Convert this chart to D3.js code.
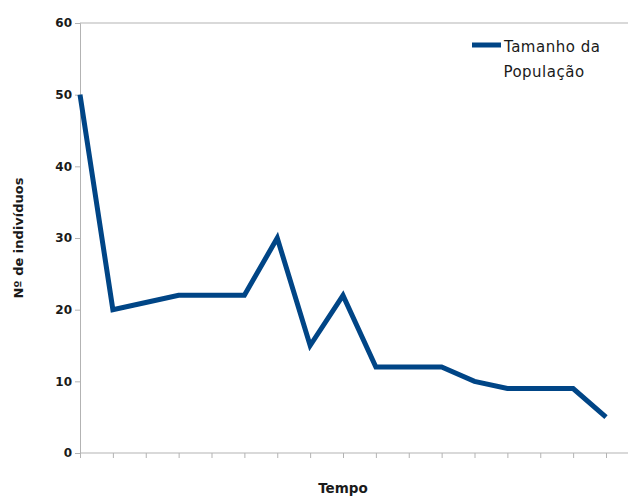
<!DOCTYPE html>
<html>
<head>
<meta charset="utf-8">
<script src="https://cdn.jsdelivr.net/npm/d3@7"></script>
<style>
  html, body { margin: 0; padding: 0; background: #fff; }
  svg { display: block; }
</style>
</head>
<body>
<svg id="chart" width="629" height="497"></svg>
<script>
// Population size over time
const periods = d3.range(1, 18);
const populacao = [50, 20, 21, 22, 22, 22, 30, 15, 22, 12, 12, 12, 10, 9, 9, 9, 5];
const yTicks = [0, 10, 20, 30, 40, 50, 60];
const seriesName = ["Tamanho da", "População"];

const svg = d3.select("#chart");
const plotLeft = 80, plotRight = 628, plotTop = 23, plotBottom = 453;
const lastX = 606;

const x = d3.scalePoint().domain(periods).range([plotLeft, lastX]);
const y = d3.scaleLinear().domain([0, 60]).range([plotBottom, plotTop]);

const axisColor = "#b3b3b3";
const lineColor = "#004586";
const textColor = "#1a1a1a";

// top reference line at 60
svg.append("line")
  .attr("x1", plotLeft).attr("x2", plotRight)
  .attr("y1", y(60)).attr("y2", y(60))
  .attr("stroke", axisColor).attr("stroke-width", 1);

// y axis
const yAxis = svg.append("g")
  .attr("transform", `translate(${plotLeft},0)`)
  .call(d3.axisLeft(y).tickValues(yTicks).tickSize(5).tickPadding(3));
yAxis.select(".domain").attr("stroke", axisColor);
yAxis.selectAll(".tick line").attr("stroke", axisColor);
yAxis.selectAll(".tick text")
  .attr("fill", textColor)
  .style("font-family", "DejaVu Sans")
  .style("font-size", "12px")
  .style("font-weight", "bold");

// x axis
const xAxis = svg.append("g")
  .attr("transform", `translate(0,${plotBottom})`)
  .call(d3.axisBottom(x).tickSize(5).tickFormat(""));
xAxis.select(".domain").remove();
xAxis.append("line")
  .attr("x1", plotLeft).attr("x2", plotRight)
  .attr("y1", 0).attr("y2", 0)
  .attr("stroke", axisColor);
xAxis.selectAll(".tick line").attr("stroke", axisColor);

// series line
const line = d3.line()
  .x((d, i) => x(periods[i]))
  .y(d => y(d));

svg.append("path")
  .datum(populacao)
  .attr("d", line)
  .attr("fill", "none")
  .attr("stroke", lineColor)
  .attr("stroke-width", 5)
  .attr("stroke-linejoin", "miter")
  .attr("stroke-linecap", "butt");

// axis titles
svg.append("text")
  .attr("transform", `translate(23,${(plotTop + plotBottom) / 2}) rotate(-90)`)
  .attr("text-anchor", "middle")
  .attr("fill", textColor)
  .style("font-family", "DejaVu Sans")
  .style("font-size", "13px")
  .style("font-weight", "bold")
  .text("Nº de indivíduos");

svg.append("text")
  .attr("x", (plotLeft + lastX) / 2)
  .attr("y", 493)
  .attr("text-anchor", "middle")
  .attr("fill", textColor)
  .style("font-family", "DejaVu Sans")
  .style("font-size", "13.5px")
  .style("font-weight", "bold")
  .text("Tempo");

// legend
const legend = svg.append("g");
legend.append("line")
  .attr("x1", 472).attr("x2", 501)
  .attr("y1", 45).attr("y2", 45)
  .attr("stroke", lineColor).attr("stroke-width", 5);
legend.append("text")
  .attr("x", 504).attr("y", 52)
  .attr("fill", textColor)
  .style("font-family", "DejaVu Sans")
  .style("font-size", "15px")
  .style("letter-spacing", "0.5px")
  .text(seriesName[0]);
legend.append("text")
  .attr("x", 544).attr("y", 77)
  .attr("text-anchor", "middle")
  .attr("fill", textColor)
  .style("font-family", "DejaVu Sans")
  .style("font-size", "15px")
  .style("letter-spacing", "0.5px")
  .text(seriesName[1]);
</script>
</body>
</html>
